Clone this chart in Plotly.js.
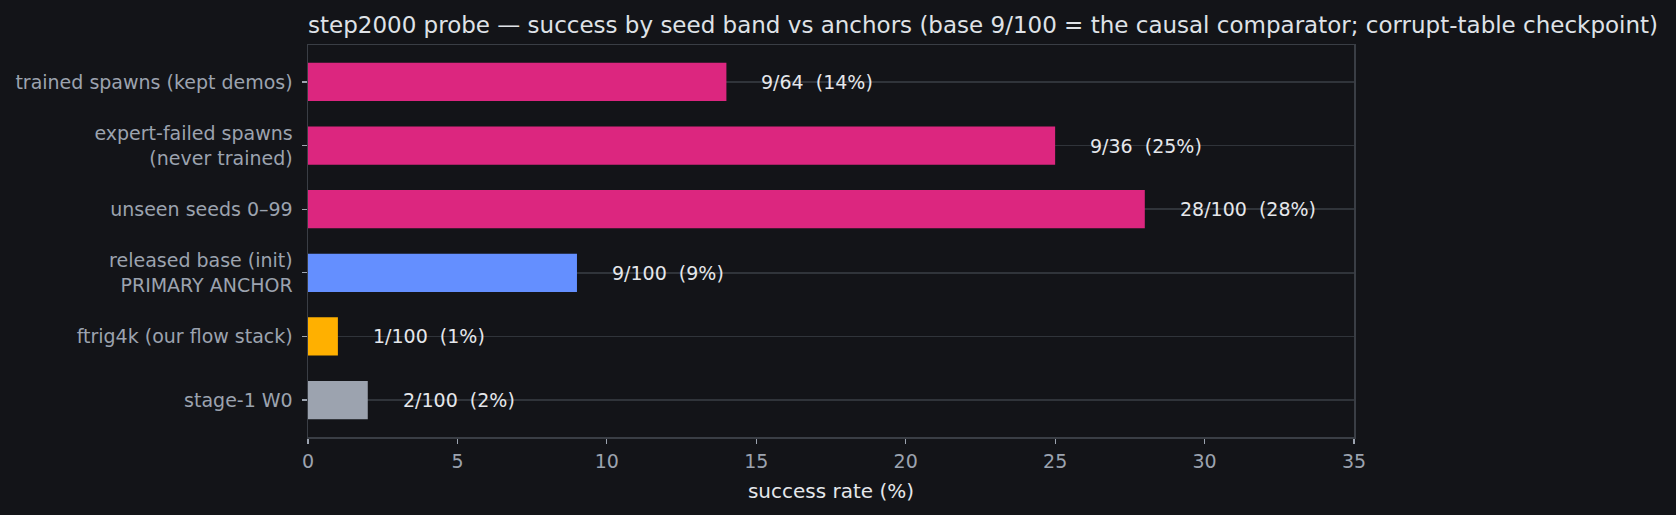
<!DOCTYPE html>
<html>
<head>
<meta charset="utf-8">
<script src="https://cdn.plot.ly/plotly-3.0.1.min.js"></script>
<style>
  html, body { margin: 0; padding: 0; background: #131418; }
  #chart { width: 1676px; height: 515px; }
</style>
</head>
<body>
<div id="chart"></div>
<script>
// seed bands / anchors, top to bottom
var bands = [
  'trained spawns (kept demos)',
  'expert-failed spawns<br>(never trained)',
  'unseen seeds 0–99',
  'released base (init)<br>PRIMARY ANCHOR',
  'ftrig4k (our flow stack)',
  'stage-1 W0'
];
var successes = [9, 9, 28, 9, 1, 2];
var trials = [64, 36, 100, 100, 100, 100];
var rates = [14, 25, 28, 9, 1, 2];   // % as printed on the chart
var barColors = ['#dc267f', '#dc267f', '#dc267f', '#648fff', '#ffb000', '#9ca3af'];

var labels = bands.map(function (b, i) {
  return successes[i] + '/' + trials[i] + '  (' + rates[i] + '%)';
});

var bars = {
  type: 'bar',
  orientation: 'h',
  x: rates,
  y: bands,
  width: 0.6,
  marker: { color: barColors },
  hoverinfo: 'x+y'
};

var notes = bands.map(function (b, i) {
  return {
    x: rates[i], y: b, xref: 'x', yref: 'y',
    text: labels[i], showarrow: false,
    xanchor: 'left', yanchor: 'middle', xshift: 33,
    font: { family: 'DejaVu Sans', size: 19, color: '#e5e7eb' }
  };
});

var axisColor = '#3a3e45';

var layout = {
  width: 1676,
  height: 515,
  paper_bgcolor: '#131418',
  plot_bgcolor: '#131418',
  margin: { l: 308, r: 322, t: 45, b: 78 },
  showlegend: false,
  font: { family: 'DejaVu Sans', size: 19, color: '#9ca3af' },
  title: {
    text: 'step2000 probe — success by seed band vs anchors (base 9/100 = the causal comparator; corrupt-table checkpoint)',
    font: { family: 'DejaVu Sans', size: 23, color: '#dfe2e7' },
    x: 0, xref: 'paper', xanchor: 'left',
    y: 0.952, yref: 'container', yanchor: 'middle'
  },
  xaxis: {
    range: [0, 35],
    dtick: 5,
    showgrid: false,
    zeroline: false,
    showline: true, mirror: true, linecolor: axisColor, linewidth: 1.5,
    ticks: 'outside', ticklen: 5, tickwidth: 1.2, tickcolor: '#9ca3af',
    ticklabelstandoff: 2,
    tickfont: { size: 19, color: '#9ca3af' },
    title: { text: 'success rate (%)', font: { size: 20, color: '#e5e7eb' }, standoff: 12 }
  },
  yaxis: {
    type: 'category',
    range: [5.58, -0.58],
    showgrid: true, gridcolor: '#30343a', gridwidth: 1.5,
    zeroline: false,
    showline: true, mirror: true, linecolor: axisColor, linewidth: 1.5,
    ticks: 'outside', ticklen: 5, tickwidth: 1.2, tickcolor: '#9ca3af',
    ticklabelstandoff: 5,
    tickfont: { size: 19, color: '#9ca3af' }
  },
  annotations: notes
};

Plotly.newPlot('chart', [bars], layout, { displayModeBar: false, staticPlot: true });
</script>
</body>
</html>
